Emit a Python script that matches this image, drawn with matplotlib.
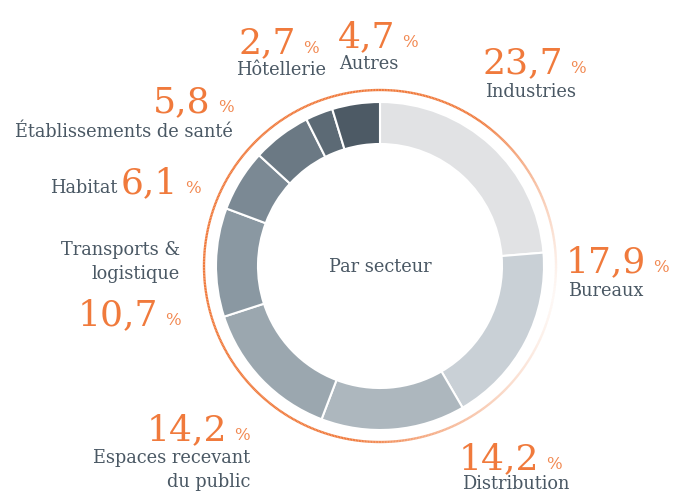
import numpy as np
import matplotlib
matplotlib.use("Agg")
import matplotlib.pyplot as plt
from matplotlib.collections import LineCollection
from matplotlib.colors import to_rgba

# --- data ---
sectors = ["Industries", "Bureaux", "Distribution", "Espaces recevant\ndu public",
           "Transports &\nlogistique", "Habitat", "Établissements de santé",
           "Hôtellerie", "Autres"]
values = [23.7, 17.9, 14.2, 14.2, 10.7, 6.1, 5.8, 2.7, 4.7]
value_labels = ["23,7", "17,9", "14,2", "14,2", "10,7", "6,1", "5,8", "2,7", "4,7"]
colors = ["#e1e2e4", "#c9d0d6", "#adb7be", "#9ba7af", "#8a98a2",
          "#7b8994", "#6b7984", "#5c6a75", "#4d5a65"]

ORANGE = "#f07a3c"
GREY = "#4a5864"
W, H = 674, 493
SERIF = ["DejaVu Serif"]

fig = plt.figure(figsize=(W / 100, H / 100), dpi=100)
ax = fig.add_axes([0, 0, 1, 1])

cx, cy = 380, H - 266
r_out, ring_w = 164, 42

ax.pie(values, colors=colors, startangle=90, counterclock=False,
       center=(cx, cy), radius=r_out,
       wedgeprops=dict(width=ring_w, edgecolor="white", linewidth=1.5))

# orange outer ring, fading on the right-hand side
r_ring = 176
th = np.linspace(0, 2 * np.pi, 721)
pts = np.column_stack([cx + r_ring * np.cos(th), cy + r_ring * np.sin(th)])
segs = np.stack([pts[:-1], pts[1:]], axis=1)
mid = np.degrees((th[:-1] + th[1:]) / 2)
mid = np.where(mid > 180, mid - 360, mid)  # -180..180, 0 = 3 o'clock
alpha = np.ones_like(mid)
up = (mid >= -10) & (mid < 55)
alpha[up] = 0.05 + 0.95 * ((mid[up] + 10) / 65) ** 1.5
down = (mid < -10) & (mid > -100)
alpha[down] = 0.05 + 0.95 * ((-10 - mid[down]) / 90) ** 1.5
rgba = np.array([to_rgba(ORANGE, a) for a in alpha])
ax.add_collection(LineCollection(segs, colors=rgba, linewidths=1.7))

ax.set_xlim(0, W)
ax.set_ylim(0, H)
ax.set_aspect("equal")
ax.axis("off")


def Y(y):
    return H - y


def value(x_pct, y_base, txt, big=26):
    # number right-aligned before the small percent sign
    ax.text(x_pct - 7, Y(y_base), txt, ha="right", va="baseline",
            fontsize=big, color=ORANGE, family=SERIF)
    ax.text(x_pct, Y(y_base), "%", ha="left", va="baseline",
            fontsize=12, color=ORANGE, family=SERIF, alpha=0.9)


def label(x, y_base, txt, ha="left"):
    ax.text(x, Y(y_base), txt, ha=ha, va="baseline", fontsize=12.8,
            color=GREY, family=SERIF, linespacing=1.4)


# Industries
value(570, 73, value_labels[0]); label(485, 97, sectors[0])
# Bureaux
value(653, 272, value_labels[1]); label(568, 296, sectors[1])
# Distribution
value(546, 469, value_labels[2]); label(462, 489, sectors[2])
# Espaces recevant du public
value(234, 440, value_labels[3]); label(250, 487, sectors[3], ha="right")
# Transports & logistique
value(165, 325, value_labels[4]); label(180, 279, sectors[4], ha="right")
# Habitat
value(185, 193, value_labels[5]); label(117, 193, sectors[5], ha="right")
# Etablissements de sante
value(218, 112, value_labels[6]); label(233, 137, sectors[6], ha="right")
# Hotellerie
value(303, 53, value_labels[7]); label(236, 75, sectors[7])
# Autres
value(402, 47, value_labels[8]); label(339, 69, sectors[8])

ax.text(cx, Y(272), "Par secteur", ha="center", va="baseline",
        fontsize=12.8, color=GREY, family=SERIF)

fig.savefig("out.png", dpi=100)
